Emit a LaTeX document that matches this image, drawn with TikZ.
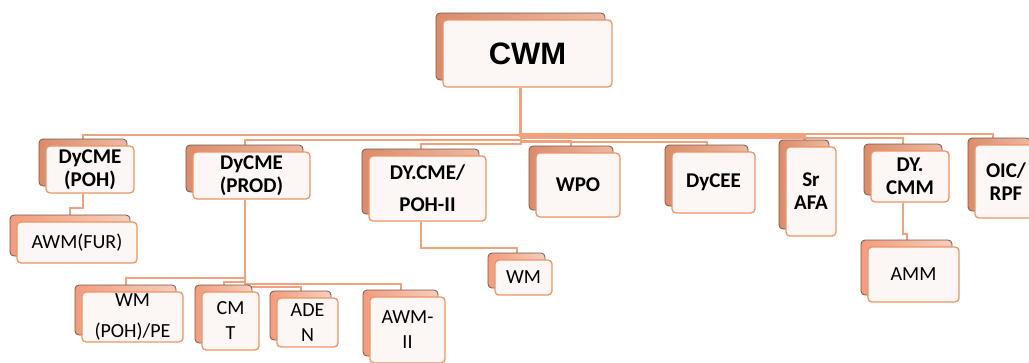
\documentclass[tikz,border=0pt]{standalone}
\usepackage{fontspec}
\setmainfont{Carlito}
\newfontfamily\cwmfont{Liberation Sans}
\usetikzlibrary{shadows,backgrounds,calc}
\definecolor{lineor}{HTML}{F0A27C}
\definecolor{frontfill}{HTML}{FCF6F4}
\definecolor{frontdraw}{HTML}{EE9563}
\definecolor{shadowdraw}{HTML}{6E5A50}
\definecolor{shA}{HTML}{DA8C6C}
\definecolor{shB}{HTML}{EFB8A0}
\definecolor{shC}{HTML}{F29C7E}
\definecolor{shD}{HTML}{F8CDBB}
\tikzset{
  front/.style={draw=frontdraw, fill=frontfill, line width=1.3pt, rounded corners=4pt,
    inner sep=0pt, align=center, text=black},
  topbox/.style={front, font=\bfseries\fontsize{21}{23}\selectfont,
    copy shadow={shadow xshift=-7pt, shadow yshift=7pt, left color=shA, right color=shB,
      draw=shadowdraw, line width=0.8pt}},
  lowbox/.style={front, font=\fontsize{20}{25}\selectfont,
    copy shadow={shadow xshift=-7pt, shadow yshift=7pt, left color=shC, right color=shD,
      draw=shadowdraw, line width=0.8pt}},
  conn/.style={draw=lineor, line width=2pt},
}
\begin{document}
\begin{tikzpicture}[x=1pt,y=-1pt]
\useasboundingbox (0,0) rectangle (1029,362);
% top
\node[topbox, font=\cwmfont\bfseries\fontsize{31}{36}\selectfont, minimum width=169pt, minimum height=67pt] (cwm) at (527.5,53.5) {CWM};
% level 2
\node[topbox, minimum width=88pt, minimum height=47pt] (poh) at (90,169.5) {DyCME\\(POH)};
\node[topbox, minimum width=117pt, minimum height=47pt] (prod) at (251.5,175.5) {DyCME\\(PROD)};
\node[topbox, minimum width=117pt, minimum height=65pt] (poh2) at (427.5,188.5) {DY.CME/\\[9pt]POH-II};
\node[topbox, minimum width=84pt, minimum height=64pt] (wpo) at (578,185) {WPO};
\node[topbox, minimum width=83pt, minimum height=61pt] (dycee) at (713.5,182.5) {DyCEE};
\node[topbox, minimum width=50pt, minimum height=89pt] (afa) at (811,191.5) {Sr\\AFA};
\node[topbox, minimum width=78pt, minimum height=51pt] (dycmm) at (910,176.5) {DY.\\CMM};
\node[topbox, minimum width=62pt, minimum height=73pt] (oic) at (1006,181.5) {OIC/\\RPF};
% level 3
\node[lowbox, minimum width=120pt, minimum height=41pt] (awmfur) at (77,242.5) {AWM(FUR)};
\node[lowbox, minimum width=101pt, minimum height=50pt] (wmpe) at (132.5,317) {WM\\[6pt](POH)/PE};
\node[lowbox, minimum width=57pt, minimum height=58pt] (cmt) at (230.5,321) {CM\\T};
\node[lowbox, minimum width=61pt, minimum height=49pt] (aden) at (307.5,322.5) {ADE\\N};
\node[lowbox, minimum width=75pt, minimum height=66pt] (awm2) at (407.5,330) {AWM-\\II};
\node[lowbox, minimum width=57pt, minimum height=35pt] (wm) at (523.5,277.5) {WM};
\node[lowbox, minimum width=91pt, minimum height=55pt] (amm) at (913.5,274.5) {AMM};
\begin{pgfonlayer}{background}
  \coordinate (stem) at ($(cwm.south)+(-7,0)$);
  \draw[conn] (stem) -- ++(0,47) -| ($(poh.north)+(-7,0)$);
  \draw[conn] (stem) -- ++(0,52) -| ($(prod.north)+(-7,0)$);
  \draw[conn] (stem) -- ++(0,56) -| ($(poh2.north)+(-7,0)$);
  \draw[conn] (stem) -- ++(0,53) -| ($(wpo.north)+(-7,0)$);
  \draw[conn] (stem) -- ++(0,54) -| ($(dycee.north)+(-7,0)$);
  \draw[conn, line width=3pt] (stem) -- ++(0,48) -| ($(afa.north)+(-7,0)$);
  \draw[conn] (stem) -- ++(0,50) -| ($(dycmm.north)+(-7,0)$);
  \draw[conn] (stem) -- ++(0,46) -| ($(oic.north)+(-13,0)$);
  \draw[conn] ($(poh.south)+(-7,0)$) -- ++(0,14) -| ($(awmfur.north)+(-7,0)$);
  \draw[conn] ($(prod.south)+(-7,0)$) -- ++(0,78) -| ($(wmpe.north)+(-7,0)$);
  \draw[conn] ($(prod.south)+(-7,0)$) -- ++(0,82) -| ($(cmt.north)+(-7,0)$);
  \draw[conn] ($(prod.south)+(-7,0)$) -- ++(0,87) -| ($(aden.north)+(-7,0)$);
  \draw[conn] ($(prod.south)+(-7,0)$) -- ++(0,84) -| ($(awm2.north)+(-7,0)$);
  \draw[conn] ($(poh2.south)+(-7,0)$) -- ++(0,26) -| ($(wm.north)+(-7,0)$);
  \draw[conn] ($(dycmm.south)+(-7,0)$) -- ++(0,31) -| ($(amm.north)+(-7,0)$);
\end{pgfonlayer}
\end{tikzpicture}
\end{document}
